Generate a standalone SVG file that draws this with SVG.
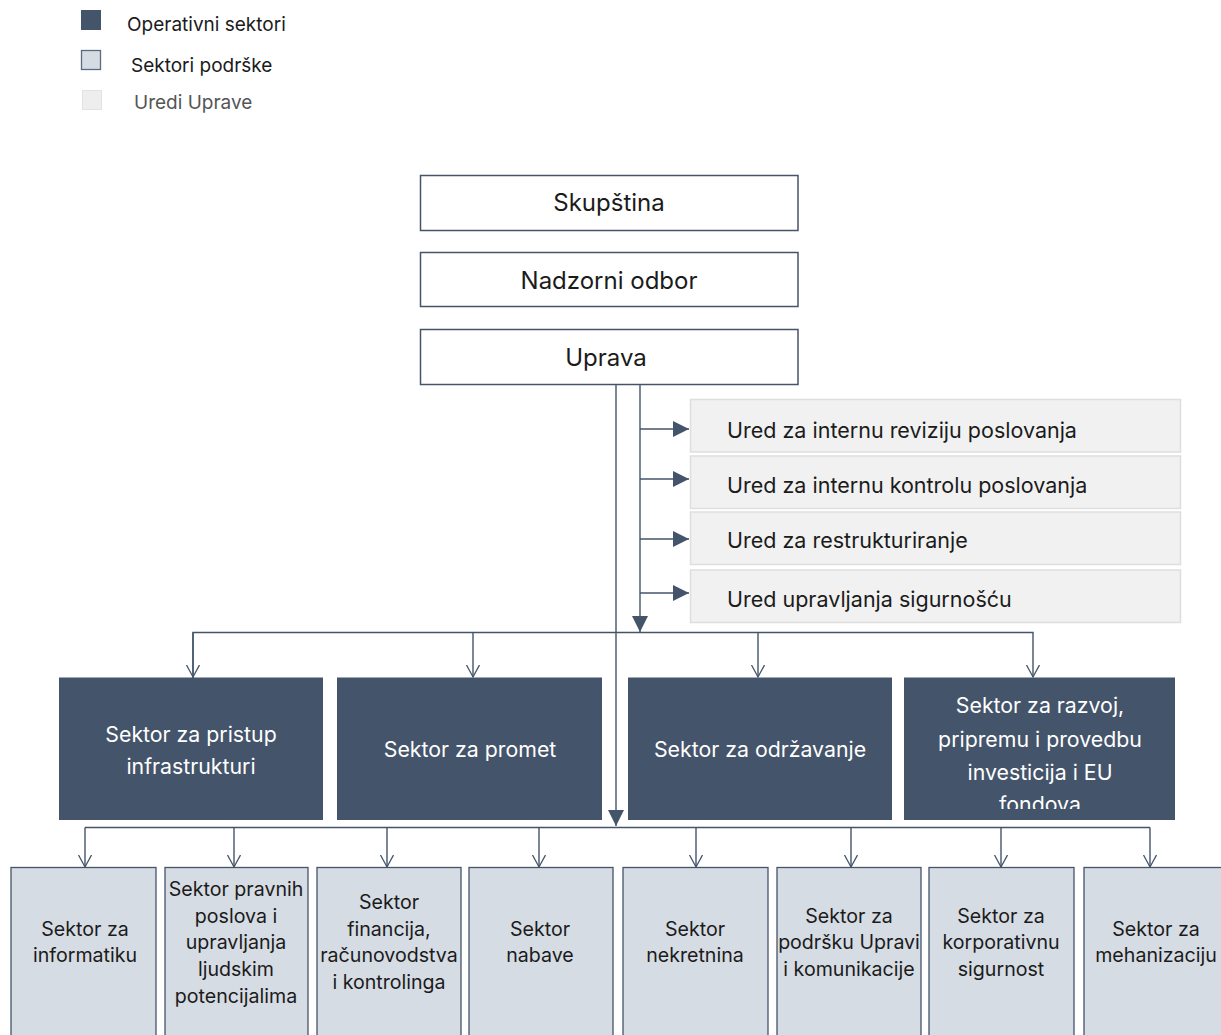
<svg xmlns="http://www.w3.org/2000/svg" width="1221" height="1035" viewBox="0 0 1221 1035">
<style>
text{font-family:Inter,"Liberation Sans",sans-serif;fill:#1b1b1b;text-anchor:middle}
.top{fill:#fff;stroke:#44546a;stroke-width:1.5}
.top-t{font-size:24px}
.off{fill:#f1f1f1;stroke:#dedede;stroke-width:1.5}
.off-t{font-size:21.5px;text-anchor:start}
.op{fill:#44546a}
.op-t{font-size:21.3px;fill:#fff}
.sup{fill:#d6dce4;stroke:#44546a;stroke-width:1.3}
.sup-t{font-size:19.6px}
.leg{font-size:19px;text-anchor:start}
.ln{fill:none;stroke:#44546a;stroke-width:1.4}
</style>
<defs>
<marker id="fa" markerUnits="userSpaceOnUse" markerWidth="16" markerHeight="16" refX="16" refY="8" orient="auto" viewBox="0 0 16 16">
<path d="M0,0 L16,8 L0,16 z" fill="#44546a"/>
</marker>
<marker id="va" markerUnits="userSpaceOnUse" markerWidth="14" markerHeight="16" refX="12" refY="7" orient="auto" viewBox="0 0 14 16">
<path d="M0,0.5 L12,7 L0,13.5" fill="none" stroke="#44546a" stroke-width="1.3"/>
</marker>
<clipPath id="c4"><rect x="904" y="677" width="272" height="132"/></clipPath>
</defs>

<g id="legend">
<rect x="81" y="10" width="20" height="20" fill="#44546a"/>
<text class="leg" x="127" y="31">Operativni sektori</text>
<rect x="81.5" y="50.5" width="19" height="19" fill="#d6dce4" stroke="#5b6a80" stroke-width="1.3"/>
<text class="leg" x="131" y="72">Sektori podrške</text>
<rect x="82.5" y="90.5" width="19" height="19" fill="#eeeeee" stroke="#e2e2e2" stroke-width="1"/>
<text class="leg" x="134" y="109" style="fill:#555">Uredi Uprave</text>
</g>

<g id="connectors">
<line class="ln" x1="616" y1="384" x2="616" y2="826" marker-end="url(#fa)"/>
<line class="ln" x1="640" y1="384" x2="640" y2="632" marker-end="url(#fa)"/>
<line class="ln" x1="640" y1="429" x2="689" y2="429" marker-end="url(#fa)"/>
<line class="ln" x1="640" y1="479" x2="689" y2="479" marker-end="url(#fa)"/>
<line class="ln" x1="640" y1="539" x2="689" y2="539" marker-end="url(#fa)"/>
<line class="ln" x1="640" y1="593" x2="689" y2="593" marker-end="url(#fa)"/>
<path class="ln" d="M193,677 V632.5 H1033 V677" marker-start="url(#va)" marker-end="url(#va)"/>
<line class="ln" x1="193" y1="632.5" x2="193" y2="677" marker-end="url(#va)"/>
<line class="ln" x1="473" y1="632.5" x2="473" y2="677" marker-end="url(#va)"/>
<line class="ln" x1="758" y1="632.5" x2="758" y2="677" marker-end="url(#va)"/>
<line class="ln" x1="85" y1="827.5" x2="1150" y2="827.5"/>
<line class="ln" x1="85" y1="827.5" x2="85" y2="867" marker-end="url(#va)"/>
<line class="ln" x1="234" y1="827.5" x2="234" y2="867" marker-end="url(#va)"/>
<line class="ln" x1="387" y1="827.5" x2="387" y2="867" marker-end="url(#va)"/>
<line class="ln" x1="539" y1="827.5" x2="539" y2="867" marker-end="url(#va)"/>
<line class="ln" x1="696" y1="827.5" x2="696" y2="867" marker-end="url(#va)"/>
<line class="ln" x1="851" y1="827.5" x2="851" y2="867" marker-end="url(#va)"/>
<line class="ln" x1="1001" y1="827.5" x2="1001" y2="867" marker-end="url(#va)"/>
<line class="ln" x1="1150" y1="827.5" x2="1150" y2="867" marker-end="url(#va)"/>
</g>

<g id="skupstina"><rect class="top" x="420.5" y="175.5" width="377.5" height="55"/><text class="top-t" x="609" y="211">Skupština</text></g>
<g id="nadzorni-odbor"><rect class="top" x="420.5" y="252.5" width="377.5" height="54"/><text class="top-t" x="609" y="288.5">Nadzorni odbor</text></g>
<g id="uprava"><rect class="top" x="420.5" y="329.5" width="377.5" height="55"/><text class="top-t" x="606" y="366">Uprava</text></g>

<g id="ured-revizija"><rect class="off" x="690.5" y="399.5" width="490" height="52.5"/><text class="off-t" x="727" y="437.5">Ured za internu reviziju poslovanja</text></g>
<g id="ured-kontrola"><rect class="off" x="690.5" y="456" width="490" height="52.5"/><text class="off-t" x="727" y="492.5">Ured za internu kontrolu poslovanja</text></g>
<g id="ured-restrukturiranje"><rect class="off" x="690.5" y="512" width="490" height="52.5"/><text class="off-t" x="727" y="547.5">Ured za restrukturiranje</text></g>
<g id="ured-sigurnost"><rect class="off" x="690.5" y="570" width="490" height="52.5"/><text class="off-t" x="727" y="606.5">Ured upravljanja sigurnošću</text></g>

<g id="sektor-pristup"><rect class="op" x="59" y="677.5" width="264" height="142.5"/>
<text class="op-t" x="191" y="742">Sektor za pristup</text><text class="op-t" x="191" y="774">infrastrukturi</text></g>
<g id="sektor-promet"><rect class="op" x="337" y="677.5" width="265" height="142.5"/>
<text class="op-t" x="470" y="757">Sektor za promet</text></g>
<g id="sektor-odrzavanje"><rect class="op" x="628" y="677.5" width="264" height="142.5"/>
<text class="op-t" x="760" y="757">Sektor za održavanje</text></g>
<g id="sektor-razvoj"><rect class="op" x="904" y="677.5" width="271" height="142.5"/>
<g clip-path="url(#c4)">
<text class="op-t" x="1040" y="713">Sektor za razvoj,</text>
<text class="op-t" x="1040" y="747">pripremu i provedbu</text>
<text class="op-t" x="1040" y="780">investicija i EU</text>
<text class="op-t" x="1040" y="812">fondova</text>
</g></g>

<g id="sektor-informatika"><rect class="sup" x="11" y="867.5" width="145" height="180"/>
<text class="sup-t" x="85" y="936">Sektor za</text><text class="sup-t" x="85" y="962">informatiku</text></g>
<g id="sektor-pravni"><rect class="sup" x="165" y="867.5" width="143" height="180"/>
<text class="sup-t" x="236" y="896">Sektor pravnih</text><text class="sup-t" x="236" y="923">poslova i</text><text class="sup-t" x="236" y="949">upravljanja</text><text class="sup-t" x="236" y="976">ljudskim</text><text class="sup-t" x="236" y="1003">potencijalima</text></g>
<g id="sektor-financija"><rect class="sup" x="317" y="867.5" width="144" height="180"/>
<text class="sup-t" x="389" y="909">Sektor</text><text class="sup-t" x="389" y="936">financija,</text><text class="sup-t" x="389" y="962">računovodstva</text><text class="sup-t" x="389" y="989">i kontrolinga</text></g>
<g id="sektor-nabave"><rect class="sup" x="469" y="867.5" width="144" height="180"/>
<text class="sup-t" x="540" y="936">Sektor</text><text class="sup-t" x="540" y="962">nabave</text></g>
<g id="sektor-nekretnina"><rect class="sup" x="623" y="867.5" width="145" height="180"/>
<text class="sup-t" x="695" y="936">Sektor</text><text class="sup-t" x="695" y="962">nekretnina</text></g>
<g id="sektor-podrska"><rect class="sup" x="777" y="867.5" width="144" height="180"/>
<text class="sup-t" x="849" y="923">Sektor za</text><text class="sup-t" x="849" y="949">podršku Upravi</text><text class="sup-t" x="849" y="976">i komunikacije</text></g>
<g id="sektor-korporativna"><rect class="sup" x="929" y="867.5" width="145" height="180"/>
<text class="sup-t" x="1001" y="923">Sektor za</text><text class="sup-t" x="1001" y="949">korporativnu</text><text class="sup-t" x="1001" y="976">sigurnost</text></g>
<g id="sektor-mehanizacija"><rect class="sup" x="1084" y="867.5" width="146" height="180"/>
<text class="sup-t" x="1156" y="936">Sektor za</text><text class="sup-t" x="1156" y="962">mehanizaciju</text></g>
</svg>
